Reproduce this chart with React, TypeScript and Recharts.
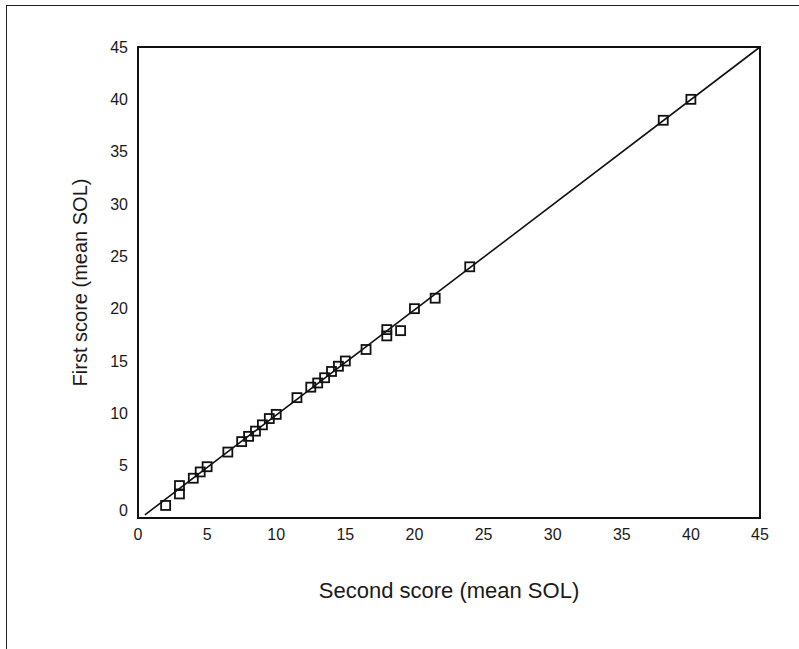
import React from 'react'
import { ReferenceArea, ReferenceLine, Scatter, ScatterChart, XAxis, YAxis } from 'recharts'

// second score (x) vs first score (y), mean SOL
const secondScore = [2, 3, 3, 4, 4.5, 5, 6.5, 7.5, 8, 8.5, 9, 9.5, 10, 11.5, 12.5, 13, 13.5, 14, 14.5, 15, 16.5, 18, 18, 19, 20, 21.5, 24, 38, 40]
const firstScore = [1.2, 2.3, 3.1, 3.8, 4.4, 4.9, 6.3, 7.3, 7.8, 8.3, 8.9, 9.5, 9.9, 11.5, 12.5, 12.9, 13.4, 14, 14.5, 15, 16.1, 18, 17.4, 17.9, 20, 21, 24, 38, 40]

// fitted line end points
const fitX = [0.5, 45]
const fitY = [0.3, 45]

const axisTicks = [0, 5, 10, 15, 20, 25, 30, 35, 40, 45]

const points = secondScore.map((x, i) => ({ x, y: firstScore[i] }))

const styles = {
  page: {
    position: 'absolute' as 'absolute',
    left: 0,
    top: 0,
    width: 799,
    height: 649,
    overflow: 'hidden',
    background: '#fff'
  },
  frame: {
    position: 'absolute' as 'absolute',
    left: 6,
    top: 5,
    width: 840,
    height: 700,
    border: '1.5px solid #222',
    boxSizing: 'border-box' as 'border-box'
  }
}

const tickStyle = { fontFamily: 'Liberation Sans', fontSize: 16, fill: '#1a1a1a' }

const SquareMarker = (props: any) => {
  const { cx, cy } = props
  if (cx == null || cy == null) return null
  return <rect x={cx - 4.5} y={cy - 4.5} width={9} height={9} fill="none" stroke="#111" strokeWidth={1.8} />
}

// the bottom label sits a little above the axis line, like the original
const YTick = (props: any) => {
  const { x, y, payload } = props
  const shift = payload.value === 0 ? -8 : 0
  return (
    <text x={x} y={y + shift} dy={5.7} textAnchor="end" style={tickStyle}>
      {payload.value}
    </text>
  )
}

const App: React.FC = () => {
  return (
    <div style={styles.page}>
      <div style={styles.frame} />
      <ScatterChart
        width={799}
        height={649}
        margin={{ top: 47, right: 39, bottom: 41, left: 58 }}
        style={{ position: 'absolute', left: 0, top: 0 }}
      >
        <XAxis
          type="number"
          dataKey="x"
          domain={[0, 45]}
          ticks={axisTicks}
          allowDataOverflow
          tickLine={false}
          tickMargin={5}
          height={90}
          axisLine={{ stroke: '#111', strokeWidth: 2 }}
          tick={tickStyle}
          label={{
            value: 'Second score (mean SOL)',
            position: 'insideBottom',
            offset: 10,
            style: { fontFamily: 'Liberation Sans', fontSize: 22, fill: '#1a1a1a' }
          }}
        />
        <YAxis
          type="number"
          dataKey="y"
          domain={[0, 45]}
          ticks={axisTicks}
          allowDataOverflow
          tickLine={false}
          tickMargin={4}
          width={80}
          axisLine={{ stroke: '#111', strokeWidth: 2 }}
          tick={<YTick />}
          label={{
            value: 'First score (mean SOL)',
            angle: -90,
            position: 'insideLeft',
            offset: 22,
            style: { fontFamily: 'Liberation Sans', fontSize: 20, fill: '#1a1a1a', textAnchor: 'middle' }
          }}
        />
        <ReferenceArea x1={0} x2={45} y1={0} y2={45} fill="none" stroke="#111" strokeWidth={2} />
        <ReferenceLine
          segment={[{ x: fitX[0], y: fitY[0] }, { x: fitX[1], y: fitY[1] }]}
          stroke="#111"
          strokeWidth={1.6}
        />
        <Scatter data={points} shape={<SquareMarker />} isAnimationActive={false} />
      </ScatterChart>
    </div>
  )
}

export default App
